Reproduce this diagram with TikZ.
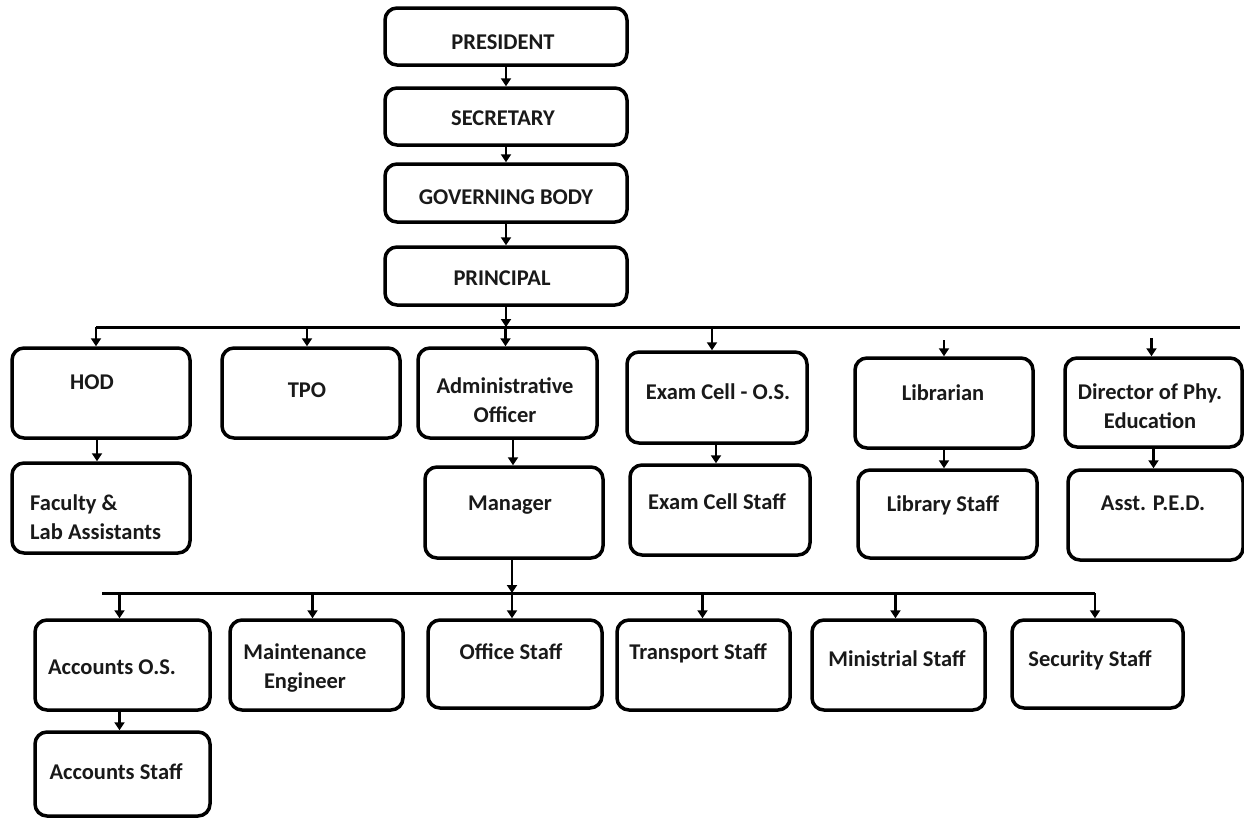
\documentclass[tikz,border=0pt]{standalone}
\usepackage{fontspec}
\setmainfont{Carlito}
\usetikzlibrary{arrows.meta}
\begin{document}
\begin{tikzpicture}[x=1pt,y=-1pt,
  box/.style={draw=black, line width=3.5pt, rounded corners=12pt, fill=white, inner sep=0pt},
  lbl/.style={font=\bfseries\fontsize{22.5}{29}\selectfont, text=black!90, align=center, inner sep=0pt},
  arr/.style={line width=2.2pt, -{Triangle[length=8pt,width=10pt]}},
  bus/.style={line width=3pt}]
\useasboundingbox (0,0) rectangle (1244,819);
% boxes
\node[box, minimum width=242pt, minimum height=57pt] (pres) at (506,36.5) {};
\node[box, minimum width=242pt, minimum height=57pt] (sec) at (506,116.5) {};
\node[box, minimum width=242pt, minimum height=58pt] (gov) at (506,193) {};
\node[box, minimum width=242pt, minimum height=58pt] (prin) at (506,276) {};
\node[box, minimum width=178pt, minimum height=90pt] (hod) at (101,393) {};
\node[box, minimum width=178pt, minimum height=90pt] (tpo) at (311,393) {};
\node[box, minimum width=179pt, minimum height=90pt] (admin) at (507.5,393) {};
\node[box, minimum width=180pt, minimum height=91pt] (exam) at (717,397.5) {};
\node[box, minimum width=178pt, minimum height=90pt] (lib) at (944,403) {};
\node[box, minimum width=177pt, minimum height=89pt] (dir) at (1153.5,402.5) {};
\node[box, minimum width=178pt, minimum height=90pt] (fac) at (101,508) {};
\node[box, minimum width=178pt, minimum height=91pt] (mgr) at (514,512.5) {};
\node[box, minimum width=180pt, minimum height=90pt] (exst) at (720,510) {};
\node[box, minimum width=179pt, minimum height=88pt] (libst) at (947.5,514) {};
\node[box, minimum width=175pt, minimum height=90pt] (asst) at (1155.5,515) {};
\node[box, minimum width=175pt, minimum height=90pt] (accos) at (122.5,665) {};
\node[box, minimum width=173pt, minimum height=90pt] (maint) at (316.5,665) {};
\node[box, minimum width=174pt, minimum height=88pt] (office) at (515,664) {};
\node[box, minimum width=173pt, minimum height=90pt] (trans) at (703.5,665) {};
\node[box, minimum width=173pt, minimum height=90pt] (minis) at (898.5,665) {};
\node[box, minimum width=171pt, minimum height=88pt] (secst) at (1097.5,664) {};
\node[box, minimum width=175pt, minimum height=84pt] (accst) at (122.5,774) {};
% labels
\node[lbl] (tpres) at (503,42) {PRESIDENT};
\node[lbl] (tsec) at (503,118) {SECRETARY};
\node[lbl] (tgov) at (506,197) {GOVERNING BODY};
\node[lbl] (tprin) at (502,278) {PRINCIPAL};
\node[lbl] (thod) at (92,382) {HOD};
\node[lbl] (ttpo) at (307,390) {TPO};
\node[lbl] (tadmin) at (505,400) {Administrative\\Officer};
\node[lbl] (texam) at (718,392) {Exam Cell - O.S.};
\node[lbl] (tmgr) at (510,505) {Manager};
\node[lbl] (texst) at (717,502) {Exam Cell Staff};
\node[lbl, anchor=west, align=left] (tfac) at (30,517) {Faculty \&\\Lab Assistants};
\node[lbl] (tlib) at (943,393) {Librarian};
\node[lbl] (tlibst) at (943,505) {Library Staff};
\node[lbl] (tdir) at (1150,406) {Director of Phy.\\Education};
\node[lbl] (tasst) at (1153,503) {Asst. P.E.D.};
\node[lbl] (taccos) at (112,667) {Accounts O.S.};
\node[lbl] (taccst) at (116,772) {Accounts Staff};
\node[lbl] (tmaint) at (305,668) {Maintenance\\Engineer};
\node[lbl] (toffice) at (511,652) {Office Staff};
\node[lbl] (ttrans) at (698,653) {Transport Staff};
\node[lbl] (tminis) at (897,659) {Ministrial Staff};
\node[lbl] (tsecst) at (1090,660) {Security Staff};
% top chain
\draw[arr] (pres.south) -- (sec.north);
\draw[arr] (sec.south) -- (gov.north);
\draw[arr] (gov.south) -- (prin.north);
% main bus
\coordinate (busL) at (96,327);
\coordinate (busR) at (1240,327);
\draw[bus] (busL) -- (busR);
\draw[arr] (prin.south) -- (prin.south |- busL);
\draw[arr] (busL) -- (busL |- hod.north);
\draw[arr] ([xshift=-4pt]tpo.north |- busL) -- ([xshift=-4pt]tpo.north);
\draw[arr] ([xshift=-2pt]admin.north |- busL) -- ([xshift=-2pt]admin.north);
\draw[arr] ([xshift=-5pt]exam.north |- busL) -- ([xshift=-5pt]exam.north);
\draw[arr] ([yshift=16pt]lib.north) -- (lib.north);
\draw[arr] ([xshift=-2pt,yshift=18pt]dir.north) -- ([xshift=-2pt]dir.north);
% second level
\draw[arr] ([xshift=-4pt]hod.south) -- ([xshift=-4pt]fac.north);
\draw[arr] ([xshift=-1pt]mgr.north |- admin.south) -- ([xshift=-1pt]mgr.north);
\draw[arr] ([xshift=-4pt]exst.north |- exam.south) -- ([xshift=-4pt]exst.north);
\draw[arr] (lib.south) -- (lib.south |- libst.north);
\draw[arr] ([xshift=-2pt]asst.north |- dir.south) -- ([xshift=-2pt]asst.north);
% lower bus
\coordinate (bbL) at (102,593);
\coordinate (bbR) at (1095,593);
\draw[arr] ([xshift=-2pt]mgr.south) -- ([xshift=-2pt]mgr.south |- bbL);
\draw[bus] (bbL) -- (bbR);
\draw[arr] (bbR) -- (bbR |- secst.north);
\draw[arr] ([xshift=-3pt]accos.north |- bbL) -- ([xshift=-3pt]accos.north);
\draw[arr] ([xshift=-4pt]maint.north |- bbL) -- ([xshift=-4pt]maint.north);
\draw[arr] ([xshift=-3pt]office.north |- bbL) -- ([xshift=-3pt]office.north);
\draw[arr] ([xshift=-1pt]trans.north |- bbL) -- ([xshift=-1pt]trans.north);
\draw[arr] ([xshift=-3pt]minis.north |- bbL) -- ([xshift=-3pt]minis.north);
\draw[arr] ([xshift=-3pt]accos.south) -- ([xshift=-3pt]accst.north);
\end{tikzpicture}
\end{document}
